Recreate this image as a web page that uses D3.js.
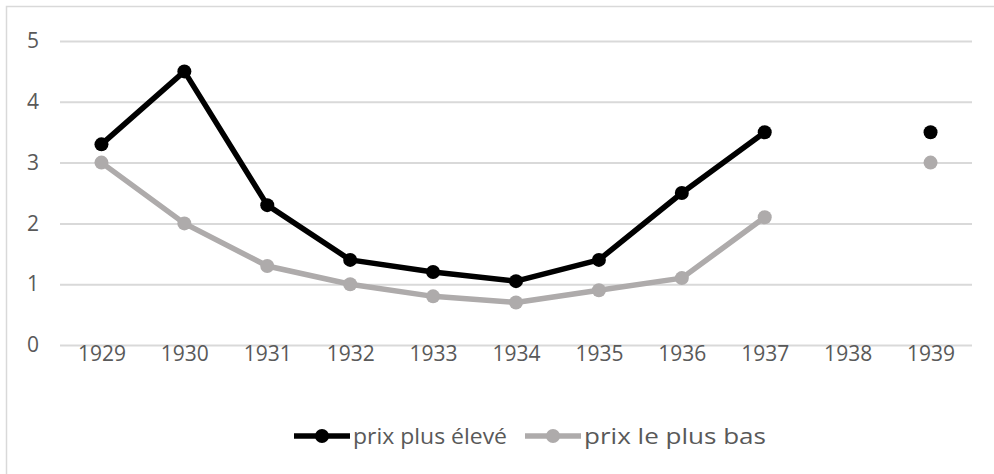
<!DOCTYPE html>
<html>
<head>
<meta charset="utf-8">
<script src="https://cdn.jsdelivr.net/npm/d3@7"></script>
<style>
  body { margin: 0; background: #fff; }
  text { font-family: "Open Sans", sans-serif; fill: #595959; }
</style>
</head>
<body>
<svg width="994" height="474"></svg>
<script>
var years = ["1929", "1930", "1931", "1932", "1933", "1934", "1935", "1936", "1937", "1938", "1939"];
var highPrices = [3.3, 4.5, 2.3, 1.4, 1.2, 1.05, 1.4, 2.5, 3.5, null, 3.5];
var lowPrices = [3.0, 2.0, 1.3, 1.0, 0.8, 0.7, 0.9, 1.1, 2.1, null, 3.0];
var yTicks = [0, 1, 2, 3, 4, 5];
var seriesNames = ["prix plus élevé", "prix le plus bas"];
var seriesColors = ["#000000", "#aeabab"];

var svg = d3.select("svg");

// chart frame (only left/top edges visible in the picture)
svg.append("rect")
    .attr("x", 6.5).attr("y", 6.5)
    .attr("width", 1000).attr("height", 500)
    .attr("fill", "none")
    .attr("stroke", "#d9d9d9")
    .attr("stroke-width", 1.5);

var xScale = d3.scalePoint(years, [60, 972]).padding(0.5);
var yScale = d3.scaleLinear([0, 5], [345, 41]);

// gridlines + y labels
var yAxis = d3.axisLeft(yScale).tickValues(yTicks).tickSize(-912).tickPadding(21).tickFormat(d3.format("d"));
var gy = svg.append("g")
    .attr("transform", "translate(60,0)")
    .call(yAxis);
gy.select(".domain").remove();
gy.selectAll(".tick line").attr("stroke", "#d9d9d9").attr("stroke-width", 2);
gy.selectAll(".tick text").attr("font-size", "21px").attr("fill", "#595959").style("font-family", "'Open Sans', sans-serif");

var xAxis = d3.axisBottom(xScale).tickSize(0).tickPadding(0);
var gx = svg.append("g")
    .attr("transform", "translate(0,345)")
    .call(xAxis);
gx.select(".domain").remove();
gx.selectAll(".tick text")
    .attr("dy", null)
    .attr("y", 16)
    .attr("font-size", "21px")
    .attr("fill", "#595959")
    .style("font-family", "'Open Sans', sans-serif");

var line = d3.line()
    .defined(function(d) { return d != null; })
    .x(function(d, i) { return xScale(years[i]); })
    .y(function(d) { return yScale(d); });

[lowPrices, highPrices].forEach(function(values) {
    var k = values === highPrices ? 0 : 1;
    var g = svg.append("g");
    g.append("path")
        .datum(values)
        .attr("d", line)
        .attr("fill", "none")
        .attr("stroke", seriesColors[k])
        .attr("stroke-width", 5.5)
        .attr("stroke-linejoin", "round");
    g.selectAll("circle")
        .data(values.map(function(v, i) { return { v: v, i: i }; }).filter(function(d) { return d.v != null; }))
        .enter()
            .append("circle")
            .attr("cx", function(d) { return xScale(years[d.i]); })
            .attr("cy", function(d) { return yScale(d.v); })
            .attr("r", 7)
            .attr("fill", seriesColors[k]);
});

// legend
var legendX = [294, 525];
var legendTextWidth = [154, 182];
seriesNames.forEach(function(name, k) {
    var lg = svg.append("g").attr("transform", "translate(" + legendX[k] + ",436)");
    lg.append("line")
        .attr("x1", 0).attr("x2", 56)
        .attr("stroke", seriesColors[k])
        .attr("stroke-width", 5.5);
    lg.append("circle").attr("cx", 28).attr("r", 7).attr("fill", seriesColors[k]);
    lg.append("text")
        .attr("x", 59).attr("y", 8)
        .attr("font-size", "22px")
        .attr("textLength", legendTextWidth[k])
        .attr("lengthAdjust", "spacingAndGlyphs")
        .text(name);
});
</script>
</body>
</html>
